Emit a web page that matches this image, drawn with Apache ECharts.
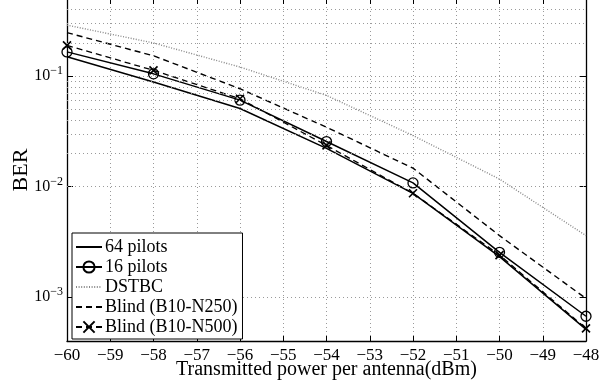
<!DOCTYPE html>
<html>
<head>
<meta charset="utf-8">
<script src="https://cdn.jsdelivr.net/npm/echarts@6/dist/echarts.min.js"></script>
<style>
html,body{margin:0;padding:0;background:#fff;}
#chart{width:611px;height:385px;}
</style>
</head>
<body>
<div id="chart"></div>
<script>
// ---- data ----
var powers = [-60, -58, -56, -54, -52, -50, -48];
var pilots64 = [0.150, 0.0885, 0.051, 0.0222, 0.0087, 0.00232, 0.00051];
var pilots16 = [0.166, 0.105, 0.0607, 0.0256, 0.0108, 0.00254, 0.00067];
var dstbc = [0.29, 0.200, 0.121, 0.067, 0.029, 0.0117, 0.0036];
var blind250 = [0.248, 0.153, 0.077, 0.0345, 0.0147, 0.0036, 0.00097];
var blind500 = [0.190, 0.113, 0.0625, 0.0236, 0.0087, 0.0024, 0.00052];
var seriesNames = ['64 pilots', '16 pilots', 'DSTBC', 'Blind (B10-N250)', 'Blind (B10-N500)'];
var minorGrid = [5e-4, 6e-4, 7e-4, 8e-4, 9e-4,
                 2e-3, 3e-3, 4e-3, 5e-3, 6e-3, 7e-3, 8e-3, 9e-3,
                 2e-2, 3e-2, 4e-2, 5e-2, 6e-2, 7e-2, 8e-2, 9e-2,
                 0.2, 0.3, 0.4];
var xTitle = 'Transmitted power per antenna(dBm)';
var yTitle = 'BER';

function pairs(vals) { return powers.map(function (p, i) { return [p, vals[i]]; }); }

var FONT = '"Liberation Serif", "DejaVu Serif", serif';
var gridColor = '#9a9a9a';
var CLEAR = 'rgba(0,0,0,0)';

var chart = echarts.init(document.getElementById('chart'), null, {renderer: 'canvas'});

function yLabel(v) {
  var l = Math.log10(v);
  var e = Math.round(l);
  if (Math.abs(l - e) > 1e-6) return '';
  return '{b|10}{s|' + (e < 0 ? '\u2212' : '') + Math.abs(e) + '}';
}

var xAxisBase = {
  type: 'value', min: -60, max: -48, interval: 1,
  axisLine: {show: true, lineStyle: {color: '#000', width: 1.3}},
  axisTick: {show: true, inside: true, length: 5, lineStyle: {color: '#000', width: 1}},
};
var yAxisBase = {
  type: 'log', logBase: 10, min: 4e-4, max: 0.5,
  axisLine: {show: true, lineStyle: {color: '#000', width: 1.3}},
  axisTick: {show: true, inside: true, length: 6, lineStyle: {color: '#000', width: 1}},
};

var option = {
  animation: false,
  backgroundColor: '#fff',
  textStyle: {fontFamily: FONT},
  grid: {left: 67, right: 25, top: -1, bottom: 44, containLabel: false, outerBoundsMode: 'none'},
  legend: {
    data: seriesNames,
    orient: 'vertical',
    left: 72, top: 233,
    padding: [5, 5, 3, 3],
    itemGap: 2,
    itemWidth: 26,
    itemHeight: 14,
    backgroundColor: '#fff',
    borderColor: '#000',
    borderWidth: 1,
    textStyle: {fontFamily: FONT, fontSize: 18, color: '#000', padding: [0, 0, 0, -2]}
  },
  xAxis: [
    Object.assign({}, xAxisBase, {
      position: 'bottom',
      name: xTitle, nameLocation: 'middle', nameGap: 19, nameMoveOverlap: false,
      nameTextStyle: {fontFamily: FONT, fontSize: 20, color: '#000'},
      axisLabel: {show: true, margin: 6, color: '#000', fontFamily: FONT, fontSize: 17,
        formatter: function (v) { return (v < 0 ? '\u2212' : '') + Math.abs(v); }},
      splitLine: {show: true, lineStyle: {color: gridColor, type: [1, 3], width: 1}}
    }),
    Object.assign({}, xAxisBase, {
      position: 'top',
      axisLine: {show: false},
      axisLabel: {show: false},
      splitLine: {show: false}
    })
  ],
  yAxis: [
    Object.assign({}, yAxisBase, {
      position: 'left',
      name: yTitle, nameLocation: 'middle', nameGap: 35, nameRotate: 90, nameMoveOverlap: false,
      nameTextStyle: {fontFamily: FONT, fontSize: 22, color: '#000'},
      axisLabel: {show: true, margin: 4, color: '#000', formatter: yLabel,
        rich: {
          b: {fontFamily: FONT, fontSize: 16, color: '#000', lineHeight: 22},
          s: {fontFamily: FONT, fontSize: 12, color: '#000', verticalAlign: 'top', lineHeight: 12}
        }},
      splitLine: {show: true, lineStyle: {color: gridColor, type: [1, 3], width: 1}}
    }),
    Object.assign({}, yAxisBase, {
      position: 'right',
      axisLabel: {show: false},
      splitLine: {show: false}
    })
  ],
  series: [
    {
      type: 'line', data: [], silent: true,
      markLine: {
        silent: true, symbol: ['none', 'none'],
        label: {show: false},
        lineStyle: {color: gridColor, type: [1, 3], width: 1},
        emphasis: {disabled: true},
        data: minorGrid.map(function (v) { return {yAxis: v}; })
      }
    },
    {
      name: seriesNames[2], type: 'line', data: pairs(dstbc), showSymbol: false, symbol: 'circle',
      lineStyle: {color: '#888', width: 1.4, type: [1, 1.6]},
      itemStyle: {color: CLEAR, borderColor: CLEAR, borderWidth: 0}
    },
    {
      name: seriesNames[3], type: 'line', data: pairs(blind250), showSymbol: false, symbol: 'circle',
      lineStyle: {color: '#000', width: 1.4, type: [6, 4]},
      itemStyle: {color: CLEAR, borderColor: CLEAR, borderWidth: 0}
    },
    {
      name: seriesNames[4], type: 'line', data: pairs(blind500),
      symbol: 'path://M0,0L10,10M10,0L0,10', symbolSize: 8, showAllSymbol: true,
      lineStyle: {color: '#000', width: 1.3, type: [6, 4]},
      itemStyle: {color: CLEAR, borderColor: '#000', borderWidth: 1.6}
    },
    {
      name: seriesNames[0], type: 'line', data: pairs(pilots64), showSymbol: false, symbol: 'circle',
      lineStyle: {color: '#000', width: 1.5, type: 'solid'},
      itemStyle: {color: CLEAR, borderColor: CLEAR, borderWidth: 0}
    },
    {
      name: seriesNames[1], type: 'line', data: pairs(pilots16),
      symbol: 'circle', symbolSize: 10, showAllSymbol: true,
      lineStyle: {color: '#000', width: 1.5, type: 'solid'},
      itemStyle: {color: CLEAR, borderColor: '#000', borderWidth: 1.3}
    }
  ]
};
chart.setOption(option);
</script>
</body>
</html>
